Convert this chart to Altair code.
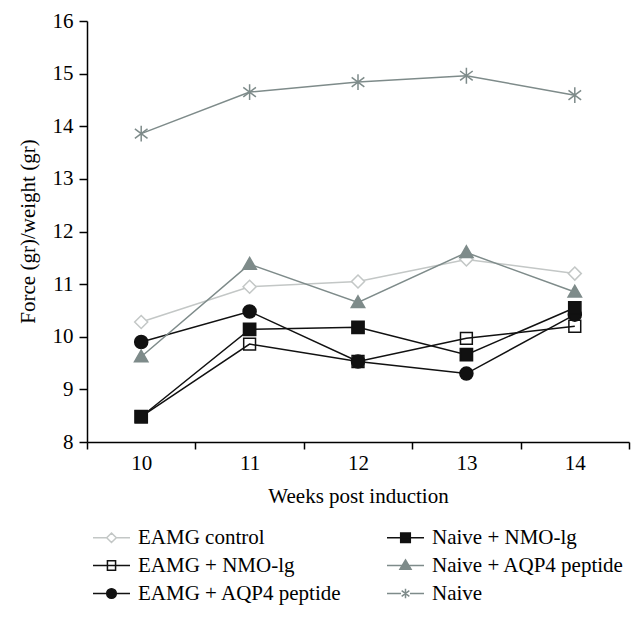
import altair as alt
import pandas as pd

# ---- data ----
weeks = [10, 11, 12, 13, 14]
series_names = ["EAMG control", "EAMG + NMO-lg", "EAMG + AQP4 peptide",
                "Naive + NMO-lg", "Naive + AQP4 peptide", "Naive"]
eamg_control = [10.28, 10.95, 11.05, 11.47, 11.20]
eamg_nmo = [8.48, 9.86, 9.53, 9.97, 10.20]
eamg_aqp4 = [9.90, 10.48, 9.53, 9.30, 10.42]
naive_nmo = [8.48, 10.14, 10.18, 9.66, 10.55]
naive_aqp4 = [9.62, 11.38, 10.65, 11.60, 10.85]
naive = [13.86, 14.65, 14.84, 14.96, 14.59]
y_ticks = [8, 9, 10, 11, 12, 13, 14, 15, 16]
legend_order = series_names

values = [eamg_control, eamg_nmo, eamg_aqp4, naive_nmo, naive_aqp4, naive]
rows = []
for name, vals in zip(series_names, values):
    for w, v in zip(weeks, vals):
        rows.append({"week": w, "value": v, "series": name})
df = pd.DataFrame(rows)

# ---- styles ----
LIGHT = "#c3c7c6"
GRAY = "#7e8b8a"
BLACK = "#111111"
FONT = "Liberation Serif, Times New Roman, DejaVu Serif, serif"
FS = 21

style = {
    "EAMG control": dict(color=LIGHT, fill="white",
                         shape="M0,-1L1,0L0,1L-1,0Z", size=170, filled=False,
                         legend="M-2.5,0H-0.65M0.65,0H2.5M0,-0.65L0.65,0L0,0.65L-0.65,0Z"),
    "EAMG + NMO-lg": dict(color=BLACK, fill="transparent",
                          shape="square", size=140, filled=False,
                          legend="M-2.5,0H2.5M-0.55,-0.65H0.55V0.65H-0.55Z"),
    "EAMG + AQP4 peptide": dict(color=BLACK, fill=BLACK,
                                shape="circle", size=170, filled=True,
                                legend="M-2.5,0H2.5M0.65,0A0.65,0.65,0,1,1,-0.65,0A0.65,0.65,0,1,1,0.65,0Z"),
    "Naive + NMO-lg": dict(color=BLACK, fill=BLACK,
                           shape="square", size=150, filled=True,
                           legend="M-2.5,0H2.5M-0.65,-0.65H0.65V0.65H-0.65Z"),
    "Naive + AQP4 peptide": dict(color=GRAY, fill=GRAY,
                                 shape="M0,-1L1,0.75L-1,0.75Z", size=180, filled=True,
                                 legend="M-2.5,0H2.5M0,-0.75L0.75,0.5L-0.75,0.5Z"),
    "Naive": dict(color=GRAY, fill="transparent",
                  shape="M0,-1V1M-0.8,-0.6L0.8,0.6M-0.8,0.6L0.8,-0.6", size=250, filled=False,
                  legend="M-2.5,0H-0.6M0.6,0H2.5M0,-0.65V0.65M-0.52,-0.38L0.52,0.38M-0.52,0.38L0.52,-0.38"),
}

x_enc = alt.X("week:O",
              scale=alt.Scale(type="band", paddingInner=0, paddingOuter=0),
              bandPosition=0.5,
              axis=alt.Axis(title="Weeks post induction", labelAngle=0, tickBand="extent",
                            domainColor="black", domainWidth=1.5, tickColor="black",
                            tickWidth=1.5, tickSize=7, labelPadding=3,
                            labelFont=FONT, labelFontSize=FS, labelColor="black",
                            titleFont=FONT, titleFontSize=FS, titleFontWeight="normal",
                            titleColor="black", titleX=271, titleY=54,
                            titleBaseline="middle", titleAlign="center"))
y_enc = alt.Y("value:Q",
              scale=alt.Scale(domain=[8, 16], nice=False, zero=False),
              axis=alt.Axis(title="Force (gr)/weight (gr)", values=y_ticks, grid=False,
                            domainColor="black", domainWidth=1.5, tickColor="black",
                            tickWidth=1.5, tickSize=8, labelPadding=6,
                            labelFont=FONT, labelFontSize=FS, labelColor="black",
                            titleFont=FONT, titleFontSize=FS, titleFontWeight="normal",
                            titleColor="black", titleAngle=-90, titleX=-59, titleY=210,
                            titleBaseline="middle", titleAlign="center"))

base = alt.Chart(df)
layers = []
for name in series_names:
    st = style[name]
    sub = base.transform_filter(alt.datum.series == name)
    layers.append(sub.mark_line(color=st["color"], strokeWidth=1.5).encode(x=x_enc, y=y_enc))
for name in series_names:
    st = style[name]
    sub = base.transform_filter(alt.datum.series == name)
    layers.append(sub.mark_point(shape=st["shape"], size=st["size"], filled=st["filled"],
                                 color=st["color"], fill=st["fill"], stroke=st["color"],
                                 strokeWidth=1.5, opacity=1).encode(x=x_enc, y=y_enc))

legend_layer = base.mark_point(size=219, opacity=0, strokeWidth=1.5).encode(
    x=x_enc, y=y_enc,
    color=alt.Color("series:N",
                    scale=alt.Scale(domain=legend_order,
                                    range=[style[n]["color"] for n in legend_order]),
                    legend=alt.Legend(title=None, orient="none", legendX=14, legendY=506,
                                      columns=2, columnPadding=42, rowPadding=6,
                                      symbolSize=219, symbolStrokeWidth=1.5,
                                      symbolOpacity=1, labelOffset=16, padding=0,
                                      labelFont=FONT, labelFontSize=FS, labelColor="black",
                                      labelLimit=400)),
    fill=alt.Fill("series:N",
                  scale=alt.Scale(domain=legend_order,
                                  range=[style[n]["fill"] for n in legend_order])),
    shape=alt.Shape("series:N",
                    scale=alt.Scale(domain=legend_order,
                                    range=[style[n]["legend"] for n in legend_order])),
)
layers.append(legend_layer)

chart = alt.layer(*layers).properties(
    width=542, height=421,
    autosize=alt.AutoSizeParams(type="none"),
    padding={"left": 79, "top": 13, "right": 7, "bottom": 166},
    background="white",
).configure_view(stroke=None)

chart.save("out.html", embed_options={"renderer": "svg", "actions": False})
